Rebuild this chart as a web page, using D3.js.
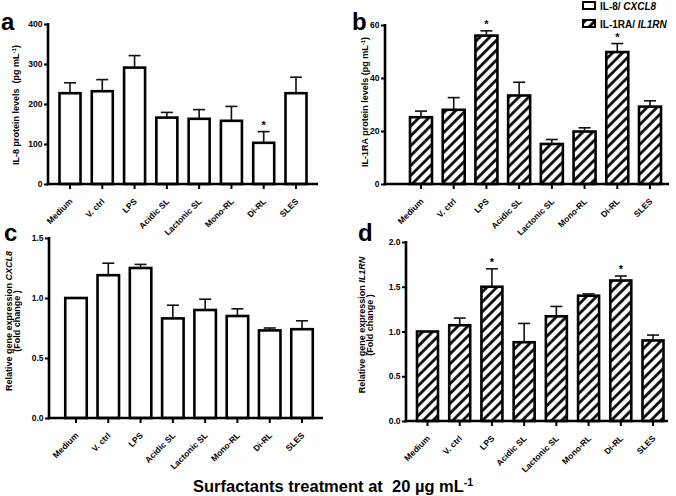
<!DOCTYPE html>
<html>
<head>
<meta charset="utf-8">
<script src="https://cdn.jsdelivr.net/npm/d3@7/dist/d3.min.js"></script>
<style>
  html, body { margin: 0; padding: 0; background: #fff; }
  svg { display: block; font-family: "Liberation Sans", Arial, Helvetica, sans-serif; font-weight: bold; }
</style>
</head>
<body>
<svg id="chart" width="676" height="496"></svg>
<script>
// ---------------- DATA ----------------
const categories = ["Medium", "V. ctrl", "LPS", "Acidic SL", "Lactonic SL", "Mono-RL", "Di-RL", "SLES"];

const il8Protein      = [227, 232, 291, 166, 163, 158, 103, 227];
const il8ProteinErr   = [26, 29, 30, 13, 23, 36, 28, 40];
const il8ProteinStars = [6];

const il1raProtein      = [25.2, 28.0, 56.0, 33.4, 15.1, 19.8, 49.8, 29.2];
const il1raProteinErr   = [2.3, 4.6, 1.8, 5.0, 1.7, 1.4, 3.2, 2.2];
const il1raProteinStars = [2, 6];

const cxcl8Fold      = [1.00, 1.19, 1.25, 0.83, 0.90, 0.85, 0.73, 0.74];
const cxcl8FoldErr   = [0.00, 0.10, 0.03, 0.11, 0.09, 0.06, 0.02, 0.07];
const cxcl8FoldStars = [];

const il1rnFold      = [1.00, 1.07, 1.50, 0.88, 1.17, 1.40, 1.57, 0.90];
const il1rnFoldErr   = [0.00, 0.08, 0.20, 0.21, 0.11, 0.02, 0.05, 0.06];
const il1rnFoldStars = [2, 6];

const ticksA = [0, 100, 200, 300, 400];
const ticksB = [0, 20, 40, 60];
const ticksC = [0, 0.5, 1.0, 1.5];
const ticksD = [0, 0.5, 1.0, 1.5, 2.0];

const legendLabels = [["IL-8/ ", "CXCL8"], ["IL-1RA/ ", "IL1RN"]];
const xTitle = "Surfactants treatment at  20 µg mL";

// ---------------- DRAW ----------------
const svg = d3.select("#chart");
const defs = svg.append("defs");
const pat = defs.append("pattern")
  .attr("id", "hatch")
  .attr("patternUnits", "userSpaceOnUse")
  .attr("width", 7).attr("height", 7)
  .attr("patternTransform", "rotate(45)");
pat.append("rect").attr("width", 7).attr("height", 7).attr("fill", "#fff");
pat.append("line").attr("x1", 1.5).attr("y1", 0).attr("x2", 1.5).attr("y2", 7)
  .attr("stroke", "#000").attr("stroke-width", 2.7);

function panel(cfg) {
  const g = svg.append("g");
  const y = d3.scaleLinear().domain(cfg.domain).range([cfg.y0, cfg.yTop]);
  const step = (cfg.c8 - cfg.c1) / 7;
  const pi = 1 - cfg.bw / step;
  const x = d3.scaleBand().domain(categories)
    .range([cfg.c1 - step / 2, cfg.c8 + step / 2])
    .paddingInner(pi).paddingOuter(pi / 2);

  // bars
  g.selectAll("rect.bar").data(cfg.values).join("rect")
    .attr("class", "bar")
    .attr("x", (d, i) => x(categories[i]))
    .attr("y", d => y(d))
    .attr("width", x.bandwidth())
    .attr("height", d => cfg.y0 - y(d))
    .attr("fill", cfg.hatch ? "url(#hatch)" : "#fff")
    .attr("stroke", "#000").attr("stroke-width", 2.6);

  // error bars (upper)
  const eg = g.append("g").attr("stroke", "#111").attr("stroke-width", 1.6);
  cfg.values.forEach((v, i) => {
    if (!cfg.err[i]) return;
    const cx = x(categories[i]) + x.bandwidth() / 2;
    eg.append("line").attr("x1", cx).attr("x2", cx).attr("y1", y(v)).attr("y2", y(v + cfg.err[i]));
    eg.append("line").attr("x1", cx - 6).attr("x2", cx + 6).attr("y1", y(v + cfg.err[i])).attr("y2", y(v + cfg.err[i]));
  });

  // stars
  cfg.stars.forEach(i => {
    const cx = x(categories[i]) + x.bandwidth() / 2;
    g.append("text").attr("x", cx).attr("y", y(cfg.values[i] + cfg.err[i]) - 3)
      .attr("text-anchor", "middle").attr("font-size", 11).text("*");
  });

  // y axis
  const yAxis = d3.axisLeft(y).tickValues(cfg.ticks).tickSize(4).tickPadding(1.5)
    .tickFormat(cfg.fmt);
  const ya = g.append("g").attr("transform", `translate(${cfg.ax0},0)`).call(yAxis);
  ya.select(".domain").remove();
  ya.selectAll(".tick line").attr("stroke", "#000").attr("stroke-width", 2);
  ya.selectAll(".tick text").attr("font-size", 8.5).attr("font-weight", "bold")
    .attr("font-family", "Liberation Sans, Arial, sans-serif").attr("fill", "#000");
  g.append("line").attr("x1", cfg.ax0).attr("x2", cfg.ax0)
    .attr("y1", cfg.yTop - 1).attr("y2", cfg.y0 + 1.3)
    .attr("stroke", "#000").attr("stroke-width", 2.6);

  // x axis
  g.append("line").attr("x1", cfg.ax0 - 1.3).attr("x2", cfg.ax1)
    .attr("y1", cfg.y0).attr("y2", cfg.y0)
    .attr("stroke", "#000").attr("stroke-width", 2.6);
  categories.forEach((c, i) => {
    const cx = x(c) + x.bandwidth() / 2;
    g.append("line").attr("x1", cx).attr("x2", cx).attr("y1", cfg.y0).attr("y2", cfg.y0 + 5)
      .attr("stroke", "#000").attr("stroke-width", 2);
    g.append("text")
      .attr("transform", `translate(${cx + 3},${cfg.y0 + 18}) rotate(-45)`)
      .attr("text-anchor", "end").attr("font-size", 8.5).text(c);
  });

  // y title
  const t = g.append("text")
    .attr("transform", `translate(${cfg.tx},${cfg.ty}) rotate(-90)`)
    .attr("text-anchor", "middle").attr("font-size", 9)
    .style("white-space", "pre");
  cfg.title(t);
  if (cfg.title2) {
    g.append("text")
      .attr("transform", `translate(${cfg.tx + 8},${cfg.ty}) rotate(-90)`)
      .attr("text-anchor", "middle").attr("font-size", 9).text(cfg.title2);
  }

  // panel letter
  svg.append("text").attr("x", cfg.lx).attr("y", cfg.ly)
    .attr("font-size", 24).text(cfg.letter);
}

const fmt0 = d3.format("d");
const fmt1 = d3.format(".1f");

panel({
  values: il8Protein, err: il8ProteinErr, stars: il8ProteinStars, hatch: false,
  domain: [0, 400], ticks: ticksA, fmt: fmt0,
  y0: 184, yTop: 24, ax0: 48, ax1: 318, c1: 70, c8: 296, bw: 21,
  tx: 19, ty: 105, letter: "a", lx: 1, ly: 30,
  title: t => { t.append("tspan").text("IL-8 protein levels  (pg mL");
    t.append("tspan").attr("baseline-shift", "super").attr("font-size", 6).text("-1");
    t.append("tspan").text(")"); }
});

panel({
  values: il1raProtein, err: il1raProteinErr, stars: il1raProteinStars, hatch: true,
  domain: [0, 60], ticks: ticksB, fmt: fmt0,
  y0: 184, yTop: 25, ax0: 385, ax1: 669, c1: 421, c8: 650, bw: 22,
  tx: 368, ty: 102, letter: "b", lx: 352, ly: 30,
  title: t => { t.append("tspan").text("IL-1RA protein levels (pg mL");
    t.append("tspan").attr("baseline-shift", "super").attr("font-size", 6).text("-1");
    t.append("tspan").text(")"); }
});

panel({
  values: cxcl8Fold, err: cxcl8FoldErr, stars: cxcl8FoldStars, hatch: false,
  domain: [0, 1.5], ticks: ticksC, fmt: fmt1,
  y0: 418, yTop: 238, ax0: 49, ax1: 323, c1: 76, c8: 302, bw: 21.5,
  tx: 12, ty: 321, letter: "c", lx: 4, ly: 241,
  title: t => { t.append("tspan").text("Relative gene expression ");
    t.append("tspan").attr("font-style", "italic").text("CXCL8"); },
  title2: "(Fold change )"
});

panel({
  values: il1rnFold, err: il1rnFoldErr, stars: il1rnFoldStars, hatch: true,
  domain: [0, 2.0], ticks: ticksD, fmt: fmt1,
  y0: 421, yTop: 242, ax0: 406, ax1: 668, c1: 427.5, c8: 653, bw: 21,
  tx: 365, ty: 325, letter: "d", lx: 358, ly: 241,
  title: t => { t.append("tspan").text("Relative gene expression ");
    t.append("tspan").attr("font-style", "italic").text("IL1RN"); },
  title2: "(Fold change )"
});

// legend
legendLabels.forEach((lab, i) => {
  const ly = 2 + i * 18;
  svg.append("rect").attr("x", 583).attr("y", ly).attr("width", 12).attr("height", 7)
    .attr("fill", i ? "url(#hatch)" : "#fff").attr("stroke", "#000").attr("stroke-width", 2);
  const t = svg.append("text").attr("x", 600).attr("y", ly + 7.5).attr("font-size", 10);
  t.append("tspan").text(lab[0]);
  t.append("tspan").attr("font-style", "italic").text(lab[1]);
});

// bottom title
const bt = svg.append("text").attr("x", 193).attr("y", 492).attr("font-size", 16.5)
  .style("white-space", "pre");
bt.append("tspan").text(xTitle);
bt.append("tspan").attr("baseline-shift", "super").attr("font-size", 10.5).text("-1");
</script>
</body>
</html>
